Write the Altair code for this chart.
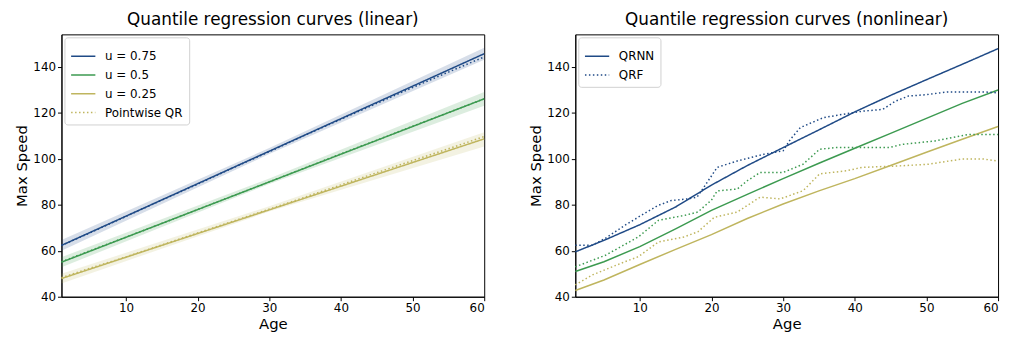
import altair as alt
import pandas as pd

BLUE = "#1f4a86"
GREEN = "#3c9a50"
OLIVE = "#bfb55e"

# ---------- Left panel (linear) ----------
lin_ages = [1, 60]
lin_q75 = [62.3, 145.6]
lin_q50 = [55.0, 126.0]
lin_q25 = [47.9, 108.6]

band_ages = [1, 30, 60]
band75_lo = [60.0, 102.0, 143.0]
band75_hi = [64.6, 104.6, 148.2]
band50_lo = [52.8, 89.0, 123.0]
band50_hi = [57.2, 91.4, 129.0]
band25_lo = [45.8, 77.0, 105.3]
band25_hi = [50.0, 79.3, 111.5]

pw_ages = [1, 5, 10, 15, 20, 25, 30, 35, 40, 45, 50, 55, 60]
pw_q75 = [62.3, 67.8, 74.9, 82.0, 88.9, 96.1, 103.0, 110.2, 117.1, 124.0, 130.9, 137.6, 144.2]
pw_q50 = [55.2, 60.0, 65.9, 71.8, 77.9, 83.9, 89.9, 96.0, 102.1, 108.0, 114.1, 120.0, 126.0]
pw_q25 = [48.3, 52.4, 57.3, 62.5, 67.7, 72.9, 78.1, 83.3, 88.6, 93.9, 99.1, 104.3, 109.6]

# ---------- Right panel (nonlinear) ----------
nn_ages = [1, 5, 10, 15, 20, 25, 30, 35, 40, 45, 50, 55, 60]
qrnn_75 = [59.5, 64.5, 71.3, 79.0, 88.5, 97.0, 104.8, 112.5, 120.3, 127.5, 134.3, 141.0, 147.8]
qrnn_50 = [51.0, 55.2, 61.8, 69.5, 77.5, 84.5, 91.3, 98.0, 104.5, 111.0, 117.5, 124.0, 129.8]
qrnn_25 = [42.7, 47.3, 54.0, 60.6, 67.0, 74.0, 80.3, 86.0, 91.3, 97.0, 102.8, 108.4, 114.0]

qrf75_ages = [1, 3.4, 5.2, 7.9, 9.8, 12.5, 14.4, 16.7, 18.0, 19.4, 20.8, 23.6, 27.3, 30.0, 31.0, 32.4, 35.6, 38.4, 41.0, 43.9, 45.7, 47.5, 50.0, 53.0, 56.0, 58.0, 60.0]
qrf75_val = [62.4, 62.4, 65.4, 71.0, 74.6, 79.6, 81.8, 82.5, 83.3, 89.7, 96.2, 99.0, 101.9, 103.4, 108.3, 113.5, 117.8, 119.3, 120.6, 121.4, 125.0, 127.2, 127.8, 129.0, 129.0, 129.0, 128.6]

qrf50_ages = [1, 5.2, 9.8, 12.6, 16.2, 18.1, 20.0, 20.8, 23.6, 25.0, 26.8, 30.0, 32.8, 35.1, 37.4, 41.6, 44.8, 46.6, 51.2, 55.8, 60.0]
qrf50_val = [53.0, 58.0, 66.0, 73.2, 75.3, 76.8, 82.0, 86.0, 86.8, 90.4, 94.0, 94.0, 97.6, 104.1, 104.8, 104.8, 104.8, 106.2, 107.7, 110.5, 110.5]

qrf25_ages = [1, 3.4, 7.9, 9.8, 12.6, 16.2, 18.1, 20.4, 23.6, 26.8, 29.6, 32.8, 35.1, 38.8, 41.0, 46.6, 50.3, 54.9, 58.0, 60.0]
qrf25_val = [45.2, 49.5, 55.2, 57.4, 63.8, 66.0, 68.2, 74.5, 76.8, 83.3, 82.5, 86.1, 93.4, 94.7, 96.2, 96.9, 97.6, 99.8, 99.8, 99.0]

X_TICKS = [10, 20, 30, 40, 50, 60]
Y_TICKS = [40, 60, 80, 100, 120, 140]
X_DOM = [1, 60]
Y_DOM = [40, 154]
DOT = [1.5, 2.5]
W, H = 427, 265

xenc = alt.X("age:Q", title="Age",
             scale=alt.Scale(domain=X_DOM, nice=False, zero=False),
             axis=alt.Axis(values=X_TICKS))
yenc = alt.Y("val:Q", title="Max Speed",
             scale=alt.Scale(domain=Y_DOM, nice=False, zero=False),
             axis=alt.Axis(values=Y_TICKS))


def line_df(ages, vals, name):
    return pd.DataFrame({"age": ages, "val": vals, "series": name})


left_lines = pd.concat([
    line_df(lin_ages, lin_q75, "u = 0.75"),
    line_df(lin_ages, lin_q50, "u = 0.5"),
    line_df(lin_ages, lin_q25, "u = 0.25"),
    line_df(pw_ages, pw_q25, "Pointwise QR"),
])

left_dom = ["u = 0.75", "u = 0.5", "u = 0.25", "Pointwise QR"]
left_col = [BLUE, GREEN, OLIVE, OLIVE]
left_dash = [[1, 0], [1, 0], [1, 0], DOT]

bands = []
for lo, hi, col in [(band75_lo, band75_hi, BLUE), (band50_lo, band50_hi, GREEN), (band25_lo, band25_hi, OLIVE)]:
    d = pd.DataFrame({"age": band_ages, "val": lo, "val2": hi})
    bands.append(alt.Chart(d).mark_area(color=col, opacity=0.18).encode(
        x=xenc, y=yenc, y2="val2:Q"))

pw_extra = []
for vals, col in [(pw_q75, BLUE), (pw_q50, GREEN)]:
    d = line_df(pw_ages, vals, "pw")
    pw_extra.append(alt.Chart(d).mark_line(color=col, strokeWidth=1.5, strokeDash=DOT).encode(
        x=xenc, y=yenc))

LEG = alt.Legend(title=None, orient="top-left")

left_main = alt.Chart(left_lines).mark_line(strokeWidth=1.5).encode(
    x=xenc, y=yenc,
    color=alt.Color("series:N", sort=left_dom,
                    scale=alt.Scale(domain=left_dom, range=left_col), legend=LEG),
    strokeDash=alt.StrokeDash("series:N", sort=left_dom,
                              scale=alt.Scale(domain=left_dom, range=left_dash), legend=LEG),
)

left = alt.layer(*bands, *pw_extra, left_main).properties(
    width=W, height=H,
    title="Quantile regression curves (linear)")

right_dom = ["QRNN", "QRF"]
right_legend_df = pd.concat([
    line_df(nn_ages, qrnn_75, "QRNN"),
    line_df(qrf75_ages, qrf75_val, "QRF"),
])

right_main = alt.Chart(right_legend_df).mark_line(strokeWidth=1.5).encode(
    x=xenc, y=yenc,
    color=alt.Color("series:N", sort=right_dom,
                    scale=alt.Scale(domain=right_dom, range=[BLUE, BLUE]), legend=LEG),
    strokeDash=alt.StrokeDash("series:N", sort=right_dom,
                              scale=alt.Scale(domain=right_dom, range=[[1, 0], DOT]), legend=LEG),
)

right_extra = []
for ages, vals, col, dash in [
    (nn_ages, qrnn_50, GREEN, None),
    (nn_ages, qrnn_25, OLIVE, None),
    (qrf50_ages, qrf50_val, GREEN, DOT),
    (qrf25_ages, qrf25_val, OLIVE, DOT),
]:
    d = line_df(ages, vals, "x")
    kw = dict(color=col, strokeWidth=1.5)
    if dash:
        kw["strokeDash"] = dash
    right_extra.append(alt.Chart(d).mark_line(**kw).encode(x=xenc, y=yenc))

right = alt.layer(*right_extra, right_main).properties(
    width=W, height=H,
    title="Quantile regression curves (nonlinear)")

chart = alt.hconcat(left, right, spacing=40).resolve_scale(
    color="independent", strokeDash="independent"
).properties(
    padding={"left": 6, "top": 1, "right": 2, "bottom": 0}
).configure(font="DejaVu Sans").configure_view(
    stroke="black", strokeWidth=1
).configure_axis(
    grid=False, domainColor="black", tickColor="black", tickSize=4,
    labelColor="black", titleColor="black", labelFontSize=12, titleFontSize=15,
    titleFontWeight="normal", labelFont="DejaVu Sans", titleFont="DejaVu Sans",
    labelPadding=2, titlePadding=3,
).configure_title(
    fontSize=17, fontWeight="normal", font="DejaVu Sans", color="black", offset=5
).configure_legend(
    fillColor="white", strokeColor="#d0d0d0", cornerRadius=3, padding=6,
    labelFontSize=12, labelFont="DejaVu Sans", labelColor="black",
    symbolType="stroke", symbolSize=600, symbolStrokeWidth=1.5,
    rowPadding=-6, offset=3, labelOffset=9,
)

chart.save("out.html", embed_options={"renderer": "svg", "actions": False})
